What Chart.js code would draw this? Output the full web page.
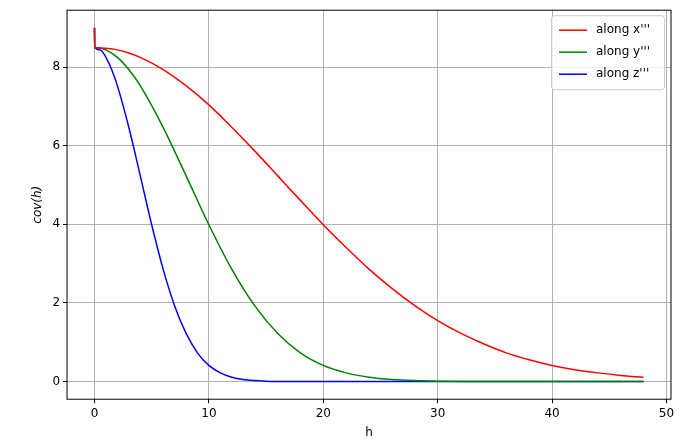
<!DOCTYPE html>
<html>
<head>
<script src="https://cdn.jsdelivr.net/npm/chart.js@4"></script>
<style>body{margin:0;background:#fff}#wrap{width:684px;height:448px}</style>
</head>
<body>
<div id="wrap"><canvas id="c"></canvas></div>
<script>
// values
const hX = [0, 0.02, 1, 2, 3, 4, 6, 8, 10, 12, 14, 16, 18, 20, 22, 24, 26, 28, 30, 32, 34, 36, 38, 40, 42, 44, 46, 48];
const covX = [9, 8.5, 8.48, 8.44, 8.36, 8.25, 7.94, 7.53, 7.04, 6.47, 5.87, 5.24, 4.61, 3.99, 3.41, 2.86, 2.37, 1.93, 1.55, 1.23, 0.96, 0.73, 0.555, 0.41, 0.30, 0.22, 0.156, 0.109];
const hY = [0, 0.02, 0.5, 1, 2, 3, 4, 6, 8, 10, 12, 14, 16, 18, 20, 22, 24, 26, 28, 30, 32, 34, 36, 40, 48];
const covY = [9, 8.5, 8.49, 8.44, 8.25, 7.94, 7.53, 6.47, 5.24, 3.99, 2.86, 1.93, 1.23, 0.73, 0.41, 0.22, 0.109, 0.051, 0.023, 0.009, 0.003, 0.001, 0, 0, 0];
const hZ = [0, 0.02, 0.5, 1, 1.5, 2, 3, 4, 5, 6, 7, 8, 9, 10, 11, 12, 13, 14, 15, 16, 18, 20, 30, 48];
const covZ = [9, 8.5, 8.44, 8.25, 7.94, 7.53, 6.47, 5.24, 3.99, 2.86, 1.93, 1.23, 0.73, 0.41, 0.22, 0.109, 0.05, 0.023, 0.009, 0.003, 0, 0, 0, 0];
const seriesNames = ["along x'''", "along y'''", "along z'''"];
const seriesColors = ['#ff0000', '#008000', '#0000ff'];
const xTicks = [0, 10, 20, 30, 40, 50];
const yTicks = [0, 2, 4, 6, 8];

const pts = (h, v) => h.map((x, i) => ({x, y: v[i]}));
const font = {family: 'DejaVu Sans', size: 12};

const legendBox = {
  id: 'legendBox',
  afterDraw(chart) {
    const {ctx, chartArea: a} = chart;
    const w = 113, h = 74, x0 = a.right - w - 7, y0 = a.top + 5;
    ctx.save();
    ctx.fillStyle = 'rgba(255,255,255,0.8)';
    ctx.strokeStyle = '#cccccc';
    ctx.lineWidth = 1;
    ctx.beginPath(); ctx.roundRect(x0 + 0.5, y0 + 0.5, w, h, 3); ctx.fill(); ctx.stroke();
    ctx.font = '12px DejaVu Sans';
    ctx.textBaseline = 'middle';
    seriesNames.forEach((n, i) => {
      const y = y0 + 15 + i * 22;
      ctx.strokeStyle = seriesColors[i]; ctx.lineWidth = 1.5;
      ctx.beginPath(); ctx.moveTo(x0 + 8, y); ctx.lineTo(x0 + 36, y); ctx.stroke();
      ctx.fillStyle = '#000'; ctx.fillText(n, x0 + 45, y);
    });
    ctx.restore();
  }
};

const frame = {
  id: 'frame',
  afterDraw(chart) {
    const {ctx, chartArea: a} = chart;
    ctx.save(); ctx.strokeStyle = '#000'; ctx.lineWidth = 1;
    ctx.strokeRect(a.left, a.top, a.right - a.left, a.bottom - a.top);
    ctx.restore();
  }
};

new Chart(document.getElementById('c'), {
  type: 'line',
  data: {
    datasets: [
      {label: seriesNames[0], data: pts(hX, covX), borderColor: seriesColors[0]},
      {label: seriesNames[1], data: pts(hY, covY), borderColor: seriesColors[1]},
      {label: seriesNames[2], data: pts(hZ, covZ), borderColor: seriesColors[2]}
    ].map(d => Object.assign(d, {borderWidth: 1.5, pointRadius: 0, cubicInterpolationMode: 'monotone', fill: false}))
  },
  options: {
    responsive: true,
    maintainAspectRatio: false,
    animation: false,
    layout: {padding: {left: 27, right: 13, top: 10, bottom: 4}},
    plugins: {legend: {display: false}, tooltip: {enabled: false}},
    scales: {
      x: {
        type: 'linear', min: -2.4, max: 50.4,
        afterBuildTicks: s => { s.ticks = xTicks.map(v => ({value: v})); },
        grid: {color: '#b0b0b0', tickColor: '#000', tickLength: 4},
        border: {display: false},
        ticks: {color: '#000', font, maxRotation: 0},
        title: {display: true, text: 'h', color: '#000', font, padding: {top: 2}}
      },
      y: {
        min: -0.45, max: 9.45,
        afterBuildTicks: s => { s.ticks = yTicks.map(v => ({value: v})); },
        grid: {color: '#b0b0b0', tickColor: '#000', tickLength: 4},
        border: {display: false},
        ticks: {color: '#000', font},
        title: {display: true, text: 'cov(h)', color: '#000', font: {family: 'DejaVu Sans', size: 12, style: 'italic'}}
      }
    }
  },
  plugins: [legendBox, frame]
});
</script>
</body>
</html>
